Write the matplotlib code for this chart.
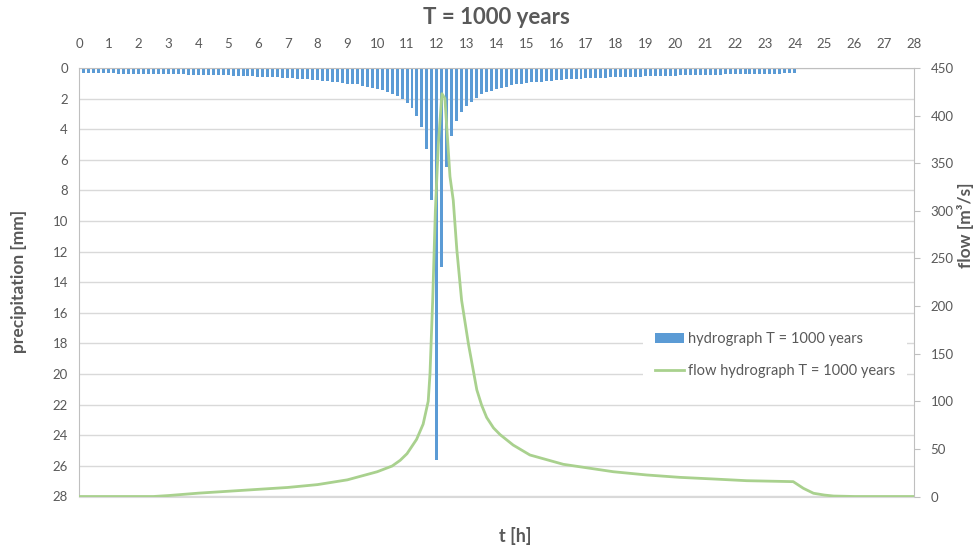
import matplotlib.pyplot as plt
import numpy as np

plt.rcParams['font.family'] = ['Lato', 'DejaVu Sans']

# rainfall in 10 minute steps, t = 1/6 ... 24 h
step_h = 1 / 6
precip_mm = [
    0.33, 0.33, 0.34, 0.34, 0.34, 0.35,
    0.35, 0.36, 0.36, 0.36, 0.37, 0.37,
    0.38, 0.38, 0.39, 0.39, 0.40, 0.40,
    0.41, 0.41, 0.42, 0.43, 0.43, 0.44,
    0.45, 0.46, 0.46, 0.47, 0.48, 0.49,
    0.50, 0.51, 0.52, 0.53, 0.54, 0.56,
    0.57, 0.58, 0.60, 0.61, 0.63, 0.65,
    0.67, 0.69, 0.71, 0.73, 0.76, 0.79,
    0.82, 0.86, 0.89, 0.94, 0.98, 1.02,
    1.05, 1.07, 1.16, 1.22, 1.29, 1.37,
    1.46, 1.57, 1.70, 1.85, 2.03, 2.27,
    2.60, 3.14, 3.88, 5.28, 8.63, 25.6,
    13.0, 6.50, 4.45, 3.45, 2.85, 2.46,
    2.20, 1.94, 1.72, 1.59, 1.48, 1.37,
    1.29, 1.22, 1.13, 1.07, 1.02, 0.98,
    0.94, 0.91, 0.89, 0.85, 0.83, 0.81,
    0.76, 0.74, 0.72, 0.70, 0.69, 0.68,
    0.66, 0.65, 0.64, 0.63, 0.62, 0.61,
    0.60, 0.59, 0.58, 0.57, 0.56, 0.55,
    0.54, 0.53, 0.52, 0.51, 0.50, 0.50,
    0.49, 0.48, 0.47, 0.47, 0.46, 0.45,
    0.44, 0.44, 0.43, 0.42, 0.42, 0.41,
    0.40, 0.40, 0.39, 0.38, 0.38, 0.37,
    0.37, 0.36, 0.36, 0.35, 0.34, 0.34,
]

flow_t = [0, 1, 2, 2.5, 3, 4, 5, 6, 7, 8, 9, 10, 10.5, 10.77, 11, 11.32,
          11.54, 11.71, 11.77, 11.86, 11.95, 12.05, 12.17, 12.27, 12.44,
          12.55, 12.67, 12.83, 13.06, 13.34, 13.5, 13.67, 13.9, 14.12, 14.56,
          15.12, 16.24, 17.92, 19.04, 20.15, 21.27, 22.39, 23.95, 24.29,
          24.63, 25.0, 25.3, 26, 28]
flow_q = [0, 0, 0, 0, 1, 3.5, 5.5, 7.5, 9.5, 12.5, 17.5, 26, 32, 38, 45, 60,
          76, 100, 129, 206, 300, 370, 423, 418, 336,
          311, 259, 206, 160, 112, 96, 83, 72, 65, 54,
          43.6, 33.8, 26, 22.6, 20.1, 18.4, 16.6, 15.6, 8.6,
          3.4, 1.5, 0.5, 0, 0]

title = "T = 1000 years"
bar_label = "hydrograph T = 1000 years"
line_label = "flow hydrograph T = 1000 years"

grey_txt = '#595959'
blue = '#5B9BD5'
green = '#A9D18E'

fig = plt.figure(figsize=(9.78, 5.47), dpi=100)
ax = fig.add_axes([79 / 978, 1 - 496.5 / 547, (914 - 79) / 978, (496.5 - 68) / 547])

t_bars = np.arange(1, len(precip_mm) + 1) * step_h
ax.bar(t_bars, precip_mm, width=0.1, color=blue, label=bar_label, zorder=2)

ax.set_xlim(0, 28)
ax.set_ylim(28, 0)
ax.set_xticks(range(0, 29))
ax.set_yticks(range(0, 29, 2))
ax.xaxis.tick_top()
ax.tick_params(axis='x', length=0, pad=13, labelsize=9.5, labelcolor=grey_txt)
ax.tick_params(axis='y', length=0, pad=8, labelsize=9.5, labelcolor=grey_txt)
ax.yaxis.grid(True, color='#D9D9D9', lw=1, zorder=0)
ax.set_axisbelow(True)
for side in ['left', 'top', 'right']:
    ax.spines[side].set_color('#BFBFBF')
ax.spines['bottom'].set_color('#D9D9D9')

ax2 = ax.twinx()
ax2.plot(flow_t, flow_q, color=green, lw=2, label=line_label, zorder=3)
ax2.set_ylim(0, 450)
ax2.set_yticks(range(0, 451, 50))
ax2.tick_params(axis='y', length=4, color='#BFBFBF', pad=8, labelsize=9.5,
                labelcolor=grey_txt)
for side in ['left', 'top', 'right', 'bottom']:
    ax2.spines[side].set_visible(False)

h1, l1 = ax.get_legend_handles_labels()
h2, l2 = ax2.get_legend_handles_labels()
leg = ax2.legend(h1 + h2, l1 + l2, loc='center left',
                 bbox_to_anchor=(643 / 978, 1 - 355 / 547),
                 bbox_transform=fig.transFigure, frameon=True, fontsize=10.5,
                 borderpad=0.8, handlelength=2.0, handletextpad=0.3,
                 labelspacing=1.25, borderaxespad=0)
leg.get_frame().set_edgecolor('none')
leg.get_frame().set_facecolor('white')
leg.get_frame().set_alpha(1)
for txt in leg.get_texts():
    txt.set_color(grey_txt)

fig.text(496.5 / 978, 1 - 17 / 547, title, ha='center', va='center',
         fontsize=16, fontweight='bold', color=grey_txt)
fig.text(19 / 978, 1 - 281 / 547, "precipitation [mm]", rotation=90,
         ha='center', va='center', fontsize=12.5, fontweight='bold',
         color=grey_txt)
fig.text(966 / 978, 1 - 225 / 547, "flow [m³/s]", rotation=90,
         ha='center', va='center', fontsize=12.5, fontweight='bold',
         color=grey_txt)
fig.text(515 / 978, 1 - 536 / 547, "t [h]", ha='center', va='center',
         fontsize=13, fontweight='bold', color=grey_txt)

fig.savefig('out.png', dpi=100)
